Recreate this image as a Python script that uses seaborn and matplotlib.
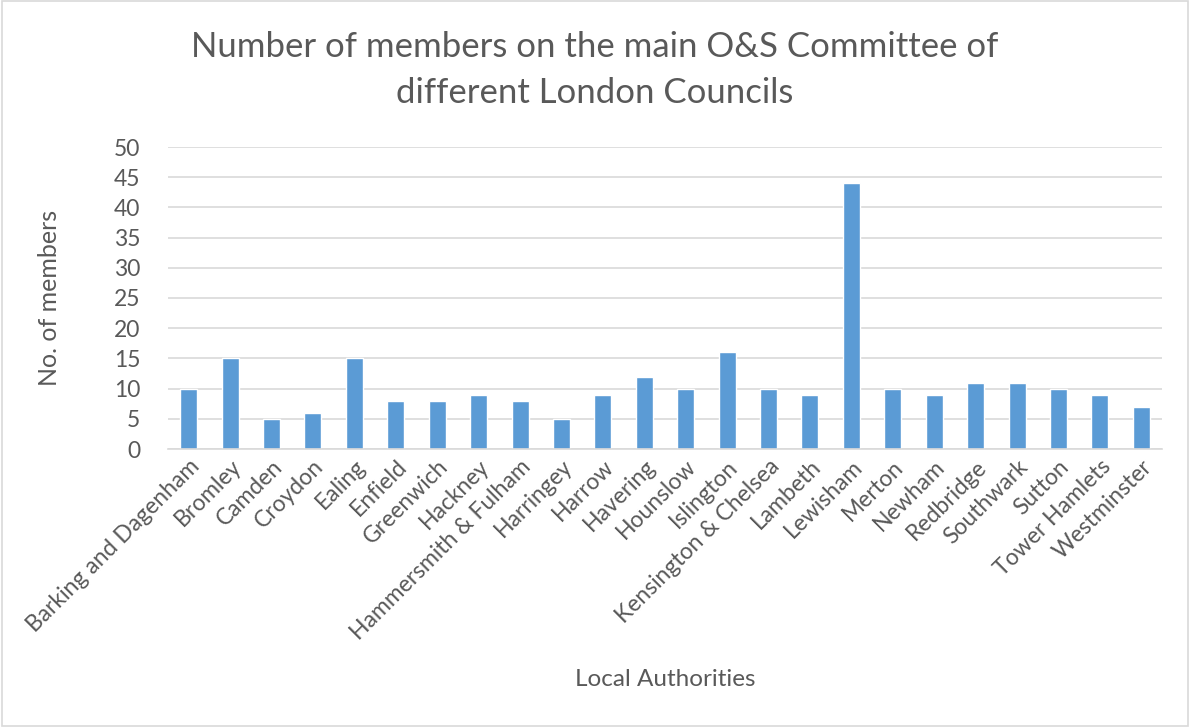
import matplotlib
matplotlib.use("Agg")
import matplotlib.pyplot as plt
import seaborn as sns
import pandas as pd

authorities = ["Barking and Dagenham", "Bromley", "Camden", "Croydon", "Ealing",
               "Enfield", "Greenwich", "Hackney", "Hammersmith & Fulham",
               "Harringey", "Harrow", "Havering", "Hounslow", "Islington",
               "Kensington & Chelsea", "Lambeth", "Lewisham", "Merton", "Newham",
               "Redbridge", "Southwark", "Sutton", "Tower Hamlets", "Westminster"]
members = [10, 15, 5, 6, 15, 8, 8, 9, 8, 5, 9, 12, 10, 16, 10, 9, 44, 10, 9,
           11, 11, 10, 9, 7]
yticks = list(range(0, 55, 5))

df = pd.DataFrame({"authority": authorities, "members": members})

sns.set_style("white")
plt.rcParams['font.family'] = ['Lato', 'DejaVu Sans']
text_col = '#595959'

fig = plt.figure(figsize=(11.9, 7.27), dpi=100)
ax = fig.add_axes([168/1190, 1 - 449/727, (1162-168)/1190, (449-147)/727])

sns.barplot(data=df, x="authority", y="members", color='#5B9BD5',
            width=0.41, saturation=1, ax=ax)

ax.set_ylim(0, 50)
ax.set_yticks(yticks)
ax.set_xlim(-0.5, len(authorities) - 0.5)
ax.grid(axis='y', color='#D9D9D9', linewidth=1.2)
ax.set_axisbelow(True)
for s in ['top', 'right', 'left']:
    ax.spines[s].set_visible(False)
ax.spines['bottom'].set_color('#D9D9D9')
ax.spines['bottom'].set_linewidth(1.2)
ax.tick_params(axis='both', length=0, labelsize=16.5, colors=text_col)
ax.tick_params(axis='y', pad=20)
ax.tick_params(axis='x', pad=5)
plt.setp(ax.get_xticklabels(), rotation=45, ha='right', rotation_mode='anchor')

ax.set_xlabel("Local Authorities", fontsize=17.5, color=text_col)
ax.set_ylabel("No. of members", fontsize=18, color=text_col)
ax.xaxis.set_label_coords(0.5, -(680-449)/(449-147), transform=ax.transAxes)
ax.yaxis.set_label_coords(-(168-50)/(1162-168), 0.5, transform=ax.transAxes)
ax.xaxis.label.set_va('center')
ax.yaxis.label.set_va('center')

fig.text(0.5, 1 - 47/727, "Number of members on the main O&S Committee of",
         ha='center', va='center', fontsize=25, color=text_col)
fig.text(0.5, 1 - 93/727, "different London Councils",
         ha='center', va='center', fontsize=25, color=text_col)

border = plt.Rectangle((0.002, 0.002), 0.996, 0.996, transform=fig.transFigure,
                       fill=False, edgecolor='#D9D9D9', linewidth=1.2)
fig.patches.append(border)

fig.savefig("out.png", dpi=100)
